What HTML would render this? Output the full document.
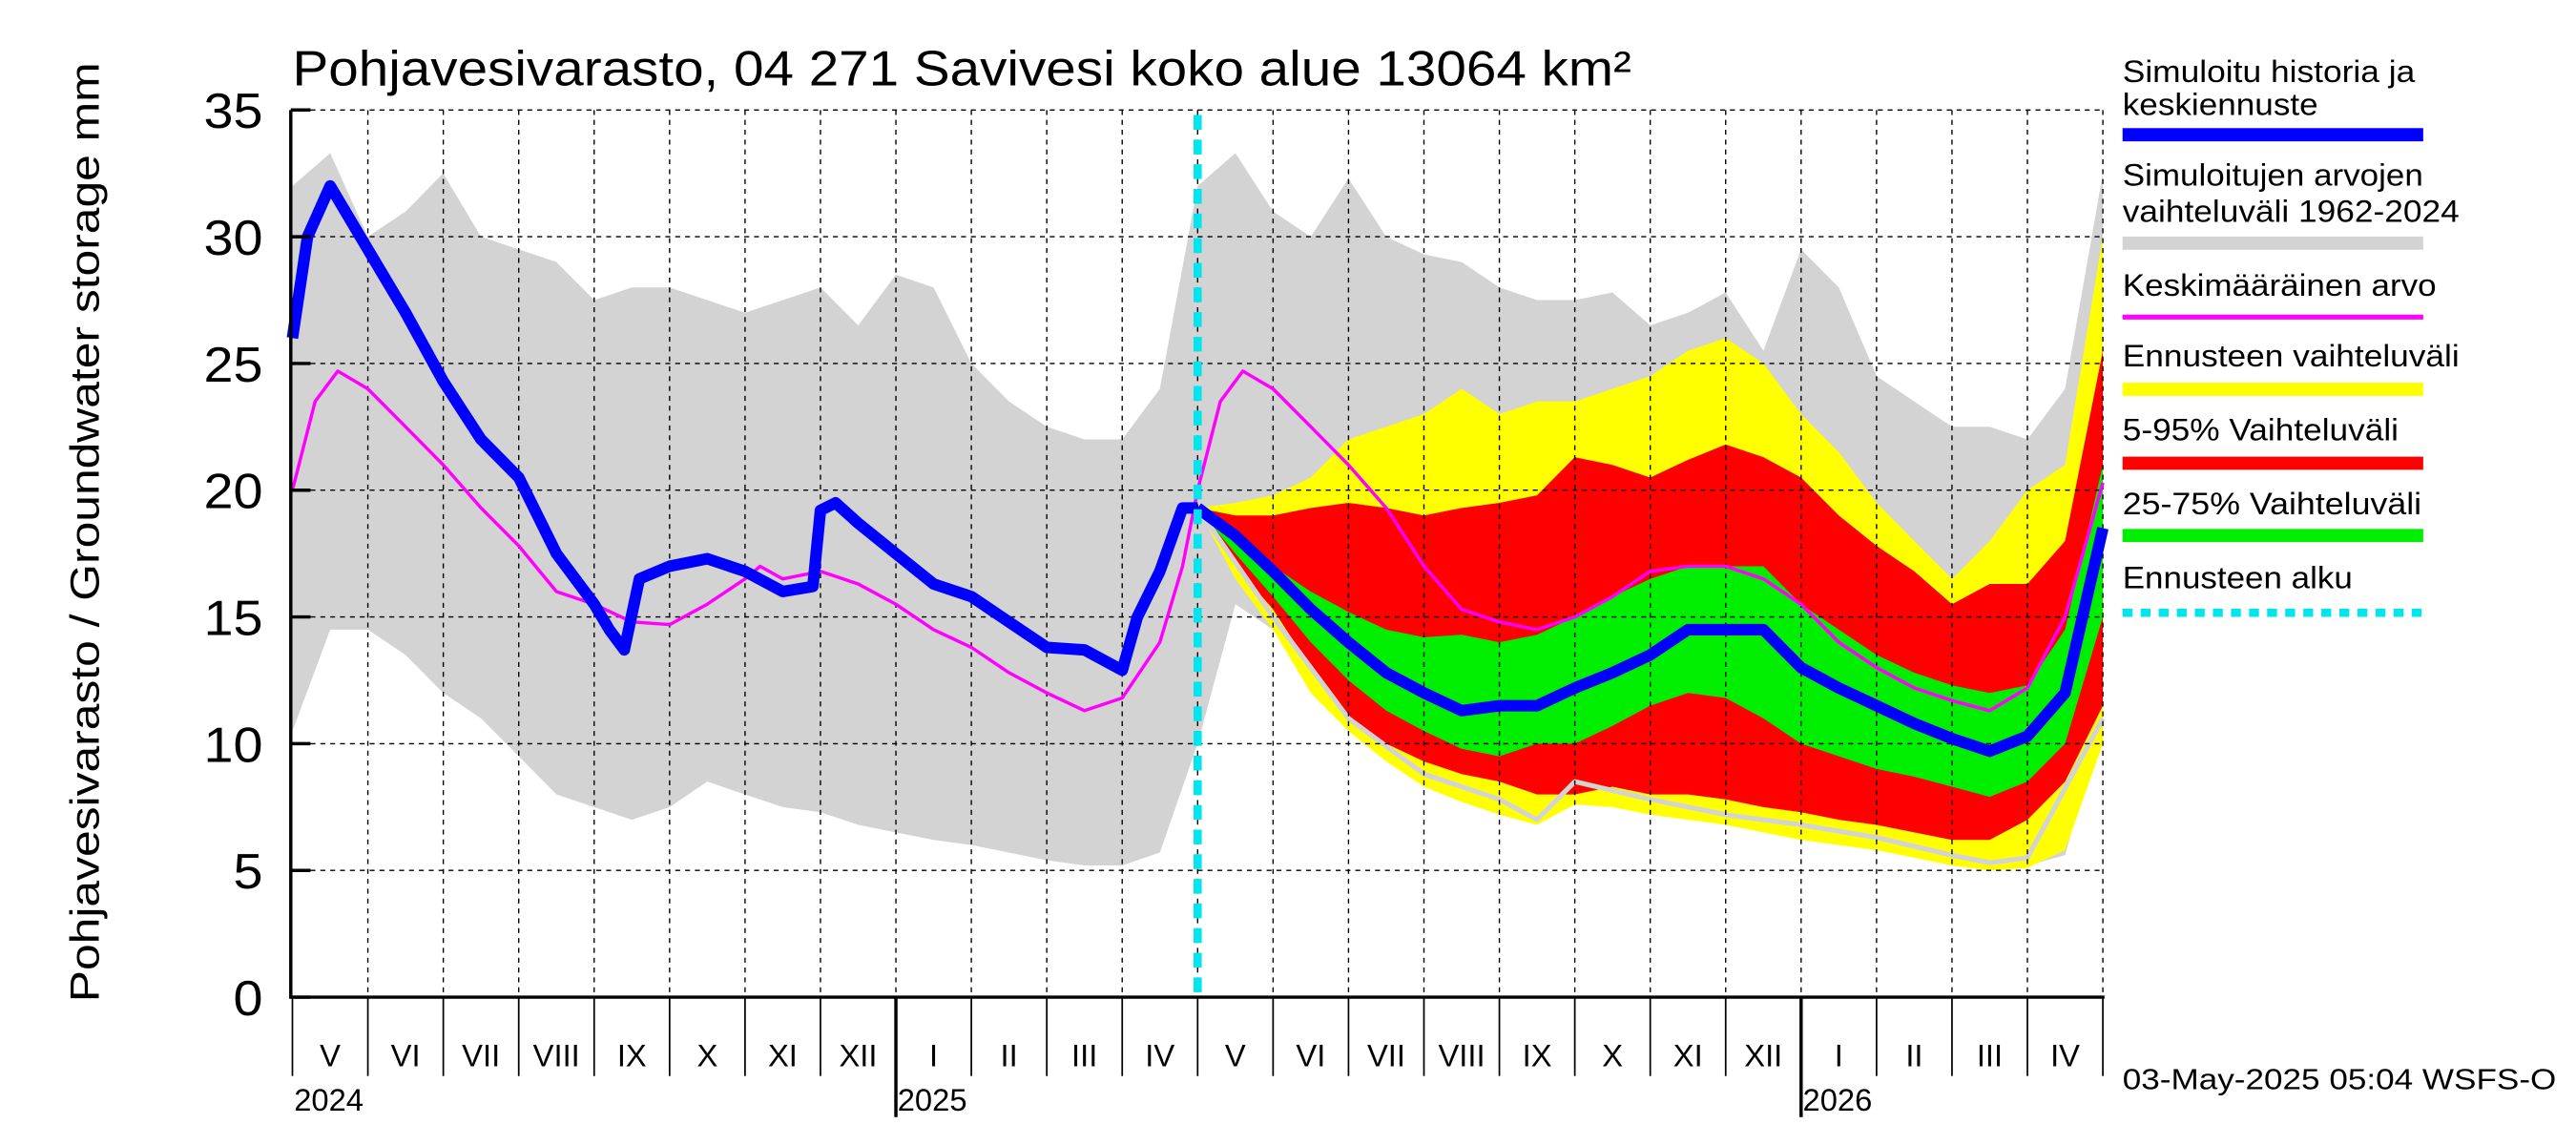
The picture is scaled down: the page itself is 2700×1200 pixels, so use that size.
<!DOCTYPE html>
<html><head><meta charset="utf-8"><style>
html,body{margin:0;padding:0;background:#fff;}
svg{display:block;font-family:"Liberation Sans",sans-serif;}
</style></head><body>
<svg id="chart" width="2700" height="1200" viewBox="0 0 1568 697" preserveAspectRatio="none" xmlns="http://www.w3.org/2000/svg">
<g id="bands"></g>
<g id="grid"></g>
<g id="lines"></g>
<g id="axes"></g>
<g id="legend"></g>
</svg>
<script>
// time in months since 2024-05-01
const tHalf=[];for(let i=0;i<=48;i++)tHalf.push(i*0.5);
const grayUpper=[32,33.3,30,31,32.5,30,29.5,29,27.5,28,28,27.5,27,27.5,28,26.5,28.5,28,25,23.5,22.5,22,22,24,32,33.3,31,30,32.3,30,29.3,29,28,27.5,27.5,27.8,26.5,27,27.8,25.5,29.5,28,24.5,23.5,22.5,22.5,22,24,32.5];
const grayLower=[10.5,14.5,14.5,13.5,12,11,9.5,8,7.5,7,7.5,8.5,8,7.5,7.3,6.8,6.5,6.2,6,5.7,5.4,5.2,5.2,5.7,10,15.5,14.5,13,12,10.5,9.5,8,7.5,6.8,7.8,8,7.5,7.3,7,6.8,6.5,6.2,6,5.6,5.3,5.1,5.2,5.6,11];
const tF=[];for(let i=0;i<=24;i++)tF.push(12+i*0.5);
const yellowUpper=[19.3,19.5,19.8,20.5,22,22.5,23,24,23,23.5,23.5,24,24.5,25.5,26,25,23,21.5,19.5,18,16.5,18,20,21,30];
const redUpper=[19.3,19,19,19.3,19.5,19.3,19,19.3,19.5,19.8,21.3,21,20.5,21.2,21.8,21.3,20.5,19,17.8,16.8,15.5,16.3,16.3,18,25.5];
const greenUpper=[19.3,18,17,16,15.2,14.5,14.2,14.3,14,14.3,15,15.8,16.5,17,17,17,15.5,14.5,13.5,12.8,12.3,12,12.3,14.5,21];
const medianF=[19.3,18.2,16.8,15.3,14,12.8,12,11.3,11.5,11.5,12.2,12.8,13.5,14.5,14.5,14.5,13,12.2,11.5,10.8,10.2,9.7,10.3,12,18.5];
const greenLower=[19.3,17.5,15.8,14,12.5,11.3,10.5,9.8,9.5,10,10,10.7,11.5,12,11.8,11,10,9.5,9,8.7,8.3,7.9,8.5,10,15];
const redLower=[19.3,17,15.3,13,11,10,9.3,8.8,8.5,8,8,8.3,8,8,7.8,7.5,7.3,7,6.8,6.5,6.2,6.2,7,8.5,11.5];
const yellowLower=[19.3,16.5,14.5,12,10.5,9.3,8.3,7.7,7.2,6.8,7.6,7.5,7.2,7,6.8,6.5,6.2,6,5.8,5.5,5.2,5,5.1,5.8,10];
const tMin=[12,13,14,15,16,16.5,17,18,19,20,21,22,22.5,23,24];
const minLine=[19.3,15,11,8.8,7.8,7,8.5,7.8,7.2,6.8,6.3,5.6,5.3,5.5,11];
const tHist=[0,0.2,0.5,1,1.5,2,2.5,3,3.5,4,4.2,4.4,4.6,5,5.5,6,6.5,6.9,7,7.2,7.5,8,8.5,9,9.5,10,10.5,11,11.2,11.5,11.8,12];
const histV=[26,30,32,29.5,27,24.3,22,20.5,17.5,15.5,14.5,13.7,16.5,17,17.3,16.8,16,16.2,19.2,19.5,18.7,17.5,16.3,15.8,14.8,13.8,13.7,12.9,15,16.8,19.3,19.3];
const tMean=[0,0.3,0.6,1,1.5,2,2.5,3,3.5,4,4.5,5,5.5,6,6.2,6.5,7,7.5,8,8.5,9,9.5,10,10.5,11,11.5,11.8,12,12.3,12.6,13,13.5,14,14.5,15,15.5,16,16.5,17,17.5,18,18.5,19,19.5,20,20.5,21,21.5,22,22.5,23,23.5,24];
const meanV=[20,23.5,24.7,24,22.5,21,19.3,17.8,16,15.5,14.8,14.7,15.5,16.5,17,16.5,16.8,16.3,15.5,14.5,13.8,12.8,12,11.3,11.8,14,17,20,23.5,24.7,24,22.5,21,19.3,17,15.3,14.8,14.5,15,15.8,16.8,17,17,16.5,15.5,14,13,12.2,11.7,11.3,12.2,15,20.3];
const yTicks=[0,5,10,15,20,25,30,35];
const months=["V","VI","VII","VIII","IX","X","XI","XII","I","II","III","IV","V","VI","VII","VIII","IX","X","XI","XII","I","II","III","IV"];
const years=[{t:0,l:"2024"},{t:8,l:"2025"},{t:20,l:"2026"}];

const X0=178,XW=1102/24,Y0=607,YS=15.43;
const sx=t=>X0+t*XW, sy=v=>Y0-v*YS;
const NS="http://www.w3.org/2000/svg";
function mk(tag,attrs,parent){const e=document.createElementNS(NS,tag);for(const k in attrs)e.setAttribute(k,attrs[k]);parent.appendChild(e);return e;}
const bands=document.getElementById('bands'),grid=document.getElementById('grid'),lines=document.getElementById('lines'),axes=document.getElementById('axes'),legend=document.getElementById('legend');
function band(ts,up,lo,color,name){
  let d='M'+ts.map((t,i)=>sx(t).toFixed(1)+','+sy(up[i]).toFixed(1)).join('L');
  for(let i=ts.length-1;i>=0;i--)d+='L'+sx(ts[i]).toFixed(1)+','+sy(lo[i]).toFixed(1);
  const p=mk('path',{d:d+'Z',fill:color},bands);
  
  
}
function line(ts,vs,color,w,name,par){
  const p=mk('polyline',{points:ts.map((t,i)=>sx(t).toFixed(1)+','+sy(vs[i]).toFixed(1)).join(' '),fill:'none',stroke:color,'stroke-width':w,'stroke-linejoin':'round'},par||lines);
  
  
}
band(tHalf,grayUpper,grayLower,'#d3d3d3','historical-range-band');
band(tF,yellowUpper,yellowLower,'#ffff00','forecast-range-band');
band(tF,redUpper,redLower,'#ff0000','band-5-95');
band(tF,greenUpper,greenLower,'#00ee00','band-25-75');
line(tMin,minLine,'#d3d3d3',3,'simulated-min-line',bands);
yTicks.forEach(v=>{if(v>0){const g=mk('line',{x1:177,x2:1280,y1:sy(v),y2:sy(v),stroke:'#000','stroke-width':0.8,'stroke-dasharray':'3,3'},grid);}});
for(let m=1;m<=24;m++){const g=mk('line',{x1:sx(m),x2:sx(m),y1:67,y2:Y0,stroke:'#000','stroke-width':0.8,'stroke-dasharray':'3,3'},grid);}
line(tMean,meanV,'#ff00ff',2,'mean-line');
line(tHist,histV,'#0000ff',7,'simulated-history-line');
line(tF,medianF,'#0000ff',7,'median-forecast-line');
const fs=mk('line',{x1:sx(12),x2:sx(12),y1:70,y2:Y0,stroke:'#00e5ee','stroke-width':5,'stroke-dasharray':'9,6'},lines);

const ax=mk('path',{d:`M177,67 V${Y0} H1281`,fill:'none',stroke:'#000','stroke-width':2},axes);

yTicks.forEach(v=>{
  const tk=mk('line',{x1:177,x2:189,y1:sy(v),y2:sy(v),stroke:'#000','stroke-width':2},axes);
  
  const tx=mk('text',{x:160,y:sy(v)+11,'text-anchor':'end','font-size':30,textLength:36,lengthAdjust:'spacingAndGlyphs'},axes);tx.textContent=v;
  if(v===0||v===5){tx.setAttribute('textLength',18);}
  
});
for(let m=0;m<=24;m++){
  const big=(m===8||m===20);
  const tk=mk('line',{x1:sx(m),x2:sx(m),y1:Y0,y2:big?680:655,stroke:'#000','stroke-width':big?2:1},axes);
  
}
months.forEach((l,i)=>{const tx=mk('text',{x:sx(i+0.5),y:649,'text-anchor':'middle','font-size':19},axes);tx.textContent=l;});
years.forEach(o=>{const tx=mk('text',{x:sx(o.t)+1,y:676,'font-size':19},axes);tx.textContent=o.l;});
const ttl=mk('text',{x:178,y:52,'font-size':30,textLength:815,lengthAdjust:'spacingAndGlyphs'},axes);ttl.textContent='Pohjavesivarasto, 04 271 Savivesi koko alue 13064 km²';

const yt=mk('text',{x:0,y:0,'font-size':25,transform:'translate(60,324) rotate(-90)','text-anchor':'middle',textLength:572,lengthAdjust:'spacingAndGlyphs','xml:space':'preserve'},axes);yt.textContent='Pohjavesivarasto / Groundwater storage    mm';

const ts=mk('text',{x:1292,y:663,'font-size':18,textLength:264,lengthAdjust:'spacingAndGlyphs'},axes);ts.textContent='03-May-2025 05:04 WSFS-O';

const leg=[
 {t:['Simuloitu historia ja','keskiennuste'],w2:[178,119],y:[50,70],ly:82,c:'#0000ff',w:8},
 {t:['Simuloitujen arvojen','vaihteluväli 1962-2024'],w2:[183,205],y:[113,135],ly:148,c:'#d3d3d3',w:8},
 {t:['Keskimääräinen arvo'],w2:[191],y:[180],ly:193,c:'#ff00ff',w:3},
 {t:['Ennusteen vaihteluväli'],w2:[205],y:[223],ly:237,c:'#ffff00',w:8},
 {t:['5-95% Vaihteluväli'],w2:[168],y:[268],ly:282,c:'#ff0000',w:8},
 {t:['25-75% Vaihteluväli'],w2:[182],y:[313],ly:326,c:'#00ee00',w:8},
 {t:['Ennusteen alku'],w2:[140],y:[358],ly:373,c:'#00e5ee',w:5,dash:'6,5'}
];
leg.forEach(e=>{
  e.t.forEach((s,i)=>{const tx=mk('text',{x:1292,y:e.y[i],'font-size':19,textLength:e.w2[i],lengthAdjust:'spacingAndGlyphs'},legend);tx.textContent=s;});
  const a={x1:1292,x2:1475,y1:e.ly,y2:e.ly,stroke:e.c,'stroke-width':e.w};if(e.dash)a['stroke-dasharray']=e.dash;
  const l=mk('line',a,legend);
});
</script>
</body></html>
